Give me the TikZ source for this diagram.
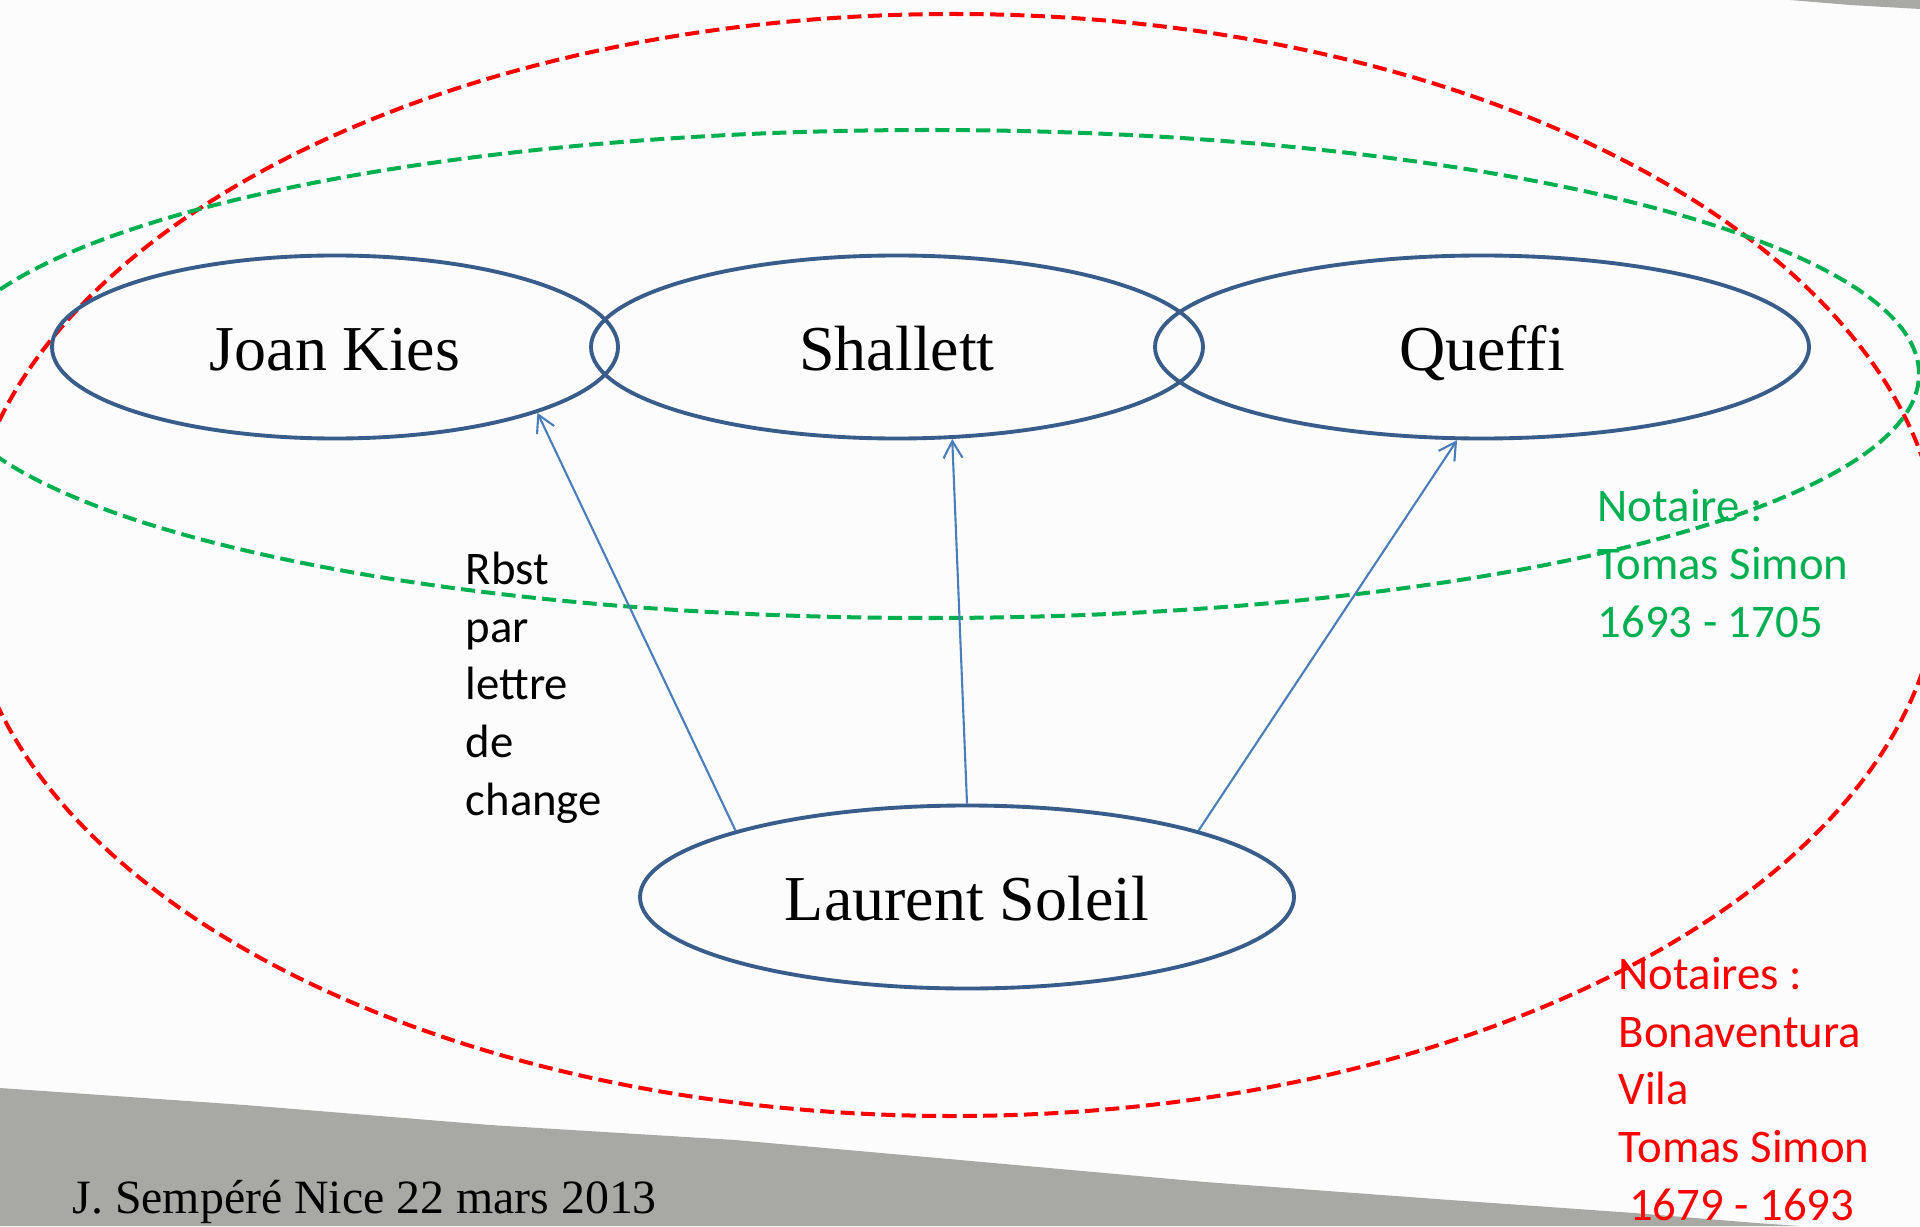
\documentclass[tikz,border=0pt]{standalone}
\usepackage{fontspec}
\setmainfont{Liberation Serif}
\newfontfamily\calibfont{Carlito}
\usetikzlibrary{shapes.geometric,arrows.meta}
\definecolor{personblue}{RGB}{56,93,138}
\definecolor{linkblue}{RGB}{74,126,187}
\definecolor{notgreen}{RGB}{0,176,80}
\definecolor{notred}{RGB}{255,0,0}
\definecolor{paper}{RGB}{168,169,165}
\def\labelfont{\calibfont\fontsize{13.3}{16.4}\selectfont}
\tikzset{
	person/.style={ellipse, draw=personblue, line width=1.1pt, inner sep=0pt,
		minimum height=1.83cm, font=\fontsize{18.2}{22}\selectfont,
		text height=13.1pt, text depth=0pt},
	link/.style={draw=linkblue, line width=0.6pt, -{Straight Barb[length=1.7mm,width=1.9mm]}},
	notairezone/.style={line width=1.14pt, dash pattern=on 4pt off 1.8pt},
	note/.style={anchor=base west, inner sep=0pt, align=left, font=\labelfont}
}

\begin{document}
\begin{tikzpicture}
				%%%%% START %%%%%
				\useasboundingbox (0, 0) rectangle (19.2, 12.26);
				\clip (0, 0) rectangle (19.2, 12.26);
				\fill[white!99!black] (0, 0) rectangle (19.2, 12.26);
				
				% scrap of the old letter
				\fill[paper] (0, 0) -- (0, 1.38) -- (2.45, 1.21) -- (4.9, 1.01) -- (7.35, 0.86) -- (9.6, 0.66)
					-- (12.05, 0.44) -- (14.5, 0.26) -- (16.34, 0.13) -- (17.56, 0.03) -- (18.0, 0) -- cycle;
				\fill[paper] (17.9, 12.26) -- (19.2, 12.26) -- (19.2, 12.17) -- (18.5, 12.21) -- cycle;
				
				% notaires
				\draw[notairezone, notred] (9.53, 6.61) ellipse (9.88 and 5.51);
				\draw[notairezone, notgreen] (9.29, 8.52) ellipse (9.90 and 2.44);
				
				\node[person, minimum width=5.66cm] (jk) at (3.35, 8.79) {Joan Kies};
				\node[person, minimum width=6.12cm] (sh) at (8.97, 8.79) {Shallett};
				\node[person, minimum width=6.54cm] (qf) at (14.82, 8.79) {Queffi};
				\node[person, minimum width=6.54cm] (ls) at (9.67, 3.29) {Laurent Soleil};
				
				\draw[link] (ls.164) -- (jk.-18);
				\draw[link] (ls.90) -- (sh.-59);
				\draw[link] (ls.16) -- (qf.-105);
				
				% base = last line
				\node[note] (rbst) at (4.65, 4.11) {Rbst\\par\\lettre\\de\\change};
				\node[note, text=notgreen] (ts) at (15.97, 5.89) {Notaire :\\Tomas Simon\\1693 - 1705};
				\node[note, text=notred] (bv) at (16.18, 0.06) {Notaires :\\Bonaventura\\Vila\\Tomas Simon\\\ 1679 - 1693};
				
				\node[anchor=base west, inner sep=0pt, font=\fontsize{13.6}{16}\selectfont] (sig) at (0.72, 0.13) {J. Sempéré Nice 22 mars 2013};
				%%%%% END %%%%%
\end{tikzpicture}
\end{document}
